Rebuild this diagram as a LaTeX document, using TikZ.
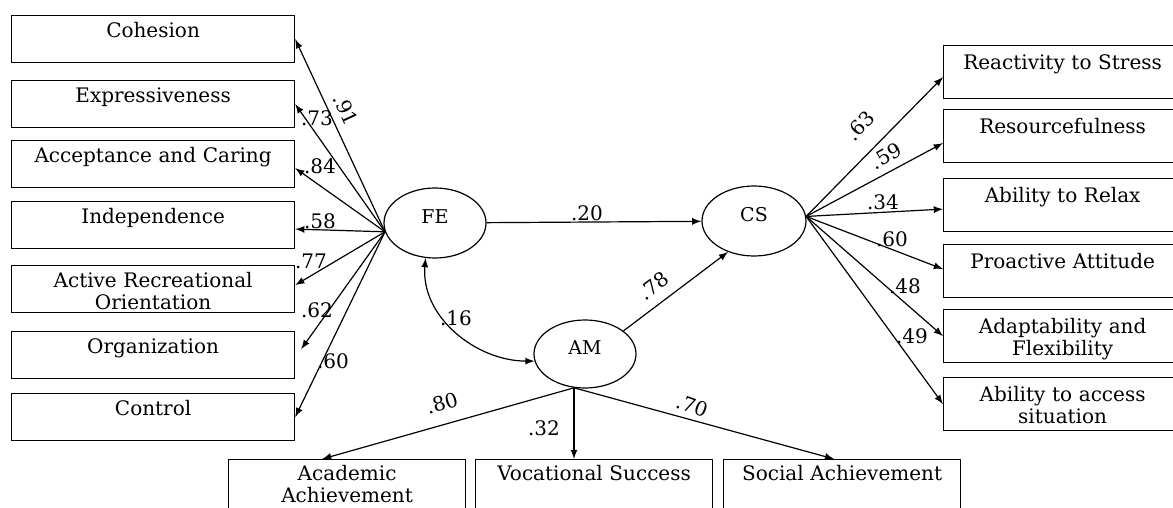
\documentclass[tikz,border=0pt]{standalone}
\usepackage{fontspec}
\setmainfont{DejaVu Serif}
\usetikzlibrary{shapes.geometric, arrows, positioning, calc}

\begin{document}
\begin{tikzpicture}[
    x=0.5pt, y=-0.5pt,
    line width=0.6pt,
    font=\fontsize{10}{10.8}\selectfont,
    lbox/.style  ={draw, anchor=north west, text width=131.5pt, align=center,
                   inner xsep=5pt, inner ysep=0pt, text height=11pt, text depth=12.5pt},
    rbox/.style  ={draw, anchor=north west, text width=109pt, align=center,
                   inner xsep=5pt, inner ysep=0pt, text height=12pt, text depth=14.5pt},
    bbox/.style  ={draw, anchor=north west, text width=108.5pt, align=center,
                   inner xsep=5pt, inner ysep=0pt, text height=10.5pt, text depth=17pt},
    latent/.style={ellipse, draw, minimum width=51pt, minimum height=35pt,
                   inner sep=0pt, text height=5pt, text depth=5pt,
                   font=\fontsize{9.5}{11}\selectfont},
    load/.style  ={draw, -latex},
    coef/.style  ={inner sep=0.5pt}
]
\useasboundingbox (0,0) rectangle (1173,508);
\clip (0,0) rectangle (1173,508);

% family environment
\node [lbox] (coh) at (11,15)  {Cohesion};
\node [lbox] (exp) at (11,80)  {Expressiveness};
\node [lbox] (acc) at (11,140) {Acceptance and Caring};
\node [lbox] (ind) at (11,201) {Independence};
\node [lbox] (aro) at (11,265) {Active Recreational\\Orientation};
\node [lbox] (org) at (11,331) {Organization};
\node [lbox] (con) at (11,393) {Control};

% latent variables
\node [latent] (FE) at (435,223) {FE};
\node [latent, minimum width=52pt] (CS) at (754,221) {CS};
\node [latent, minimum height=34pt] (AM) at (585,354) {AM};

% coping strategies
\node [rbox] (rts) at (943,45)  {Reactivity to Stress};
\node [rbox] (res) at (943,109) {Resourcefulness};
\node [rbox] (rel) at (943,178) {Ability to Relax};
\node [rbox] (pro) at (943,244) {Proactive Attitude};
\node [rbox] (ada) at (943,309) {Adaptability and\\Flexibility};
\node [rbox] (sit) at (943,377) {Ability to access\\situation};

% achievement motivation
\node [bbox] (aca) at (228,459) {Academic\\Achievement};
\node [bbox] (voc) at (475,459) {Vocational Success};
\node [bbox] (soc) at (723,459) {Social Achievement};

\coordinate (few) at (FE.190);
\coordinate (cse) at (CS.5);
\coordinate (ams) at (AM.252);

\draw [load] (few) -- (coh.east);
\draw [load] (few) -- (exp.east);
\draw [load] (few) -- ($(acc.east)+(0,4)$);
\draw [load] (few) -- ($(ind.east)+(0,4)$);
\draw [load] (few) -- ($(aro.east)+(0,-4)$);
\draw [load] (few) -- ($(org.east)+(6,-6)$);
\draw [load] (few) -- (con.east);

\node [coef, rotate=-65] (l91) at (346,110) {.91};
\node [coef] (l73) at (317,118) {.73};
\node [coef] (l84) at (320,166) {.84};
\node [coef] (l58) at (320,221) {.58};
\node [coef] (l77) at (311,261) {.77};
\node [coef] (l62) at (317,310) {.62};
\node [coef] (l60a) at (333,361) {.60};

\draw [load] (FE) -- (CS);
\node [coef] (l20) at (587,213) {.20};

\draw [latex-latex] (FE.255) to[out=-95, in=180] (AM.188);
\node [coef] (l16) at (456,318) {.16};

\draw [load] (AM.31) -- (CS.230);
\node [coef, rotate=37] (l78) at (654,286) {.78};

\draw [load] (ams) -- ($(aca.north)+(-25,0)$);
\draw [load] (ams) -- (ams |- voc.north);
\draw [load] (ams) -- ($(soc.north)+(-8,0)$);
\node [coef, rotate=16] (l80) at (442,403) {.80};
\node [coef] (l32) at (544,428) {.32};
\node [coef, rotate=-20] (l70) at (692,406) {.70};

\draw [load] (cse) -- ($(rts.west)+(0,5)$);
\draw [load] (cse) -- ($(res.west)+(0,7)$);
\draw [load] (cse) -- ($(rel.west)+(0,4)$);
\draw [load] (cse) -- ($(pro.west)+(0,-2)$);
\draw [load] (cse) -- (ada.west);
\draw [load] (cse) -- (sit.west);

\node [coef, rotate=46] (l63) at (860,126) {.63};
\node [coef, rotate=29] (l59) at (886,156) {.59};
\node [coef] (l34) at (883,202) {.34};
\node [coef] (l60b) at (892,239) {.60};
\node [coef] (l48) at (905,286) {.48};
\node [coef] (l49) at (912,336) {.49};
\end{tikzpicture}
\end{document}
